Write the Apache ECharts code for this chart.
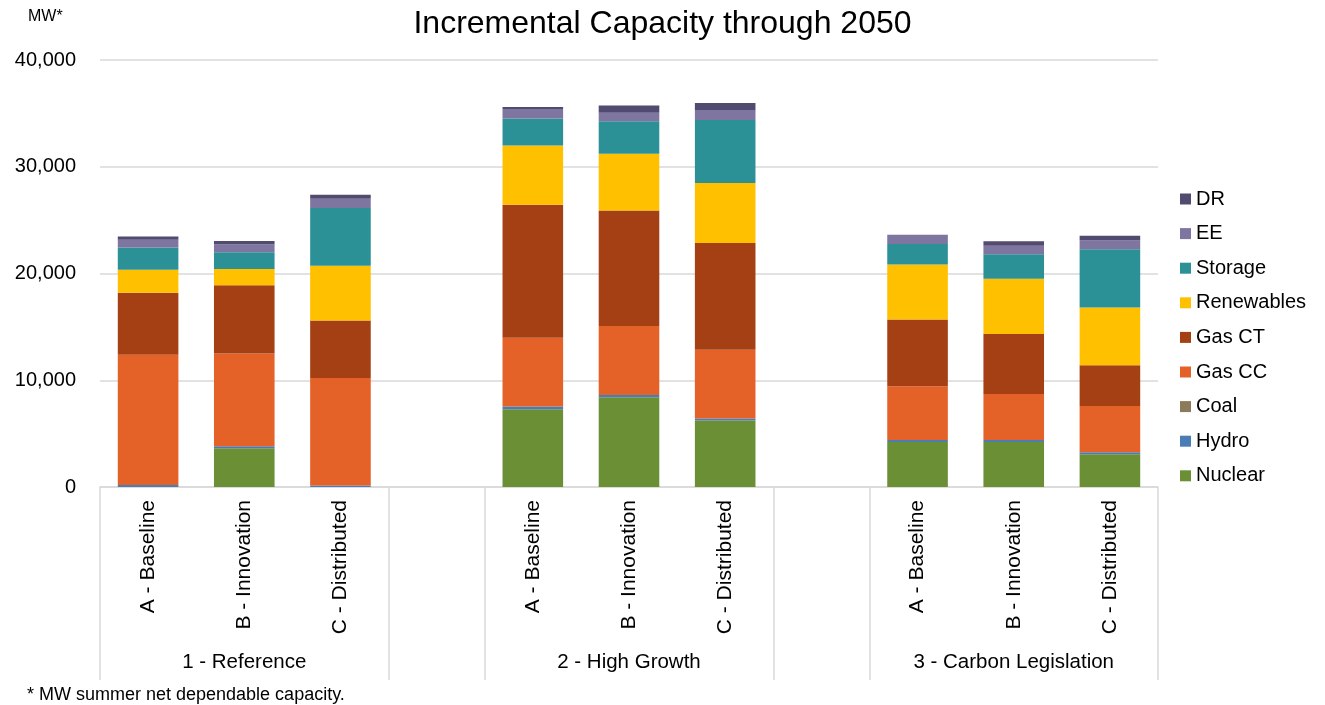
<!DOCTYPE html>
<html>
<head>
<meta charset="utf-8">
<script src="https://cdn.jsdelivr.net/npm/echarts@6/dist/echarts.min.js"></script>
<style>
  html, body { margin: 0; padding: 0; background: #fff; }
  #chart { width: 1325px; height: 705px; }
</style>
</head>
<body>
<div id="chart"></div>
<script>
// Scenario columns; empty entries leave a spacer slot between scenario groups
const categories = [
  'A - Baseline', 'B - Innovation', 'C - Distributed', '',
  'A - Baseline', 'B - Innovation', 'C - Distributed', '',
  'A - Baseline', 'B - Innovation', 'C - Distributed'
];
const groups = ['1 - Reference', '2 - High Growth', '3 - Carbon Legislation'];
const groupMiddleIndex = [1, 5, 9];
const groupBoundaries = [0, 3, 4, 7, 8];

// Incremental capacity by resource type (MW)
const nuclear    = [0,     3620,  0,     null, 7280,  8400,  6220,  null, 4220, 4220, 3060];
const hydro      = [180,   190,   150,   null, 250,   220,   190,   null, 190,  190,  190];
const coal       = [0,     0,     0,     null, 0,     0,     0,     null, 0,    0,    0];
const gasCC      = [12200, 8690,  10070, null, 6440,  6470,  6440,  null, 5030, 4310, 4340];
const gasCT      = [5810,  6400,  5380,  null, 12470, 10810, 10000, null, 6250, 5620, 3810];
const renewables = [2160,  1530,  5120,  null, 5560,  5310,  5620,  null, 5160, 5160, 5410];
const storage    = [2090,  1560,  5410,  null, 2530,  3060,  5910,  null, 1910, 2310, 5470];
const ee         = [720,   720,   880,   null, 880,   780,   940,   null, 870,  780,  810];
const dr         = [310,   340,   370,   null, 190,   690,   660,   null, 0,    440,  440];

const yTicks = { min: 0, max: 40000, interval: 10000 };

const seriesDefs = [
  { name: 'Nuclear',    data: nuclear,    color: '#6b8f35' },
  { name: 'Hydro',      data: hydro,      color: '#4a7db5' },
  { name: 'Coal',       data: coal,       color: '#8c7b5b' },
  { name: 'Gas CC',     data: gasCC,      color: '#e46128' },
  { name: 'Gas CT',     data: gasCT,      color: '#a54014' },
  { name: 'Renewables', data: renewables, color: '#ffc000' },
  { name: 'Storage',    data: storage,    color: '#2c9197' },
  { name: 'EE',         data: ee,         color: '#7e75a0' },
  { name: 'DR',         data: dr,         color: '#514b70' }
];

const FONT = '"Liberation Sans", Arial, sans-serif';
const GRID_COLOR = '#d9d9d9';

const groupAxisData = categories.map(function (c, i) {
  const g = groupMiddleIndex.indexOf(i);
  return g >= 0 ? groups[g] : '';
});

const chart = echarts.init(document.getElementById('chart'), null, { renderer: 'canvas' });

chart.setOption({
  animation: false,
  textStyle: { fontFamily: FONT },
  title: [
    {
      text: 'Incremental Capacity through 2050',
      left: 'center', top: 3,
      textStyle: { fontFamily: FONT, fontSize: 32, fontWeight: 'normal', color: '#000' }
    },
    {
      text: 'MW*',
      left: 23, top: 4,
      textStyle: { fontFamily: FONT, fontSize: 16, fontWeight: 'normal', color: '#000' }
    },
    {
      text: '* MW summer net dependable capacity.',
      left: 22, top: 681,
      textStyle: { fontFamily: FONT, fontSize: 18, fontWeight: 'normal', color: '#000' }
    }
  ],
  legend: {
    orient: 'vertical',
    left: 1175, top: 184,
    itemWidth: 11, itemHeight: 11,
    itemGap: 14.6,
    icon: 'rect',
    data: seriesDefs.map(function (s) { return s.name; }).reverse(),
    textStyle: { fontFamily: FONT, fontSize: 20, color: '#000' }
  },
  grid: { left: 100, right: 167, top: 60, bottom: 218, containLabel: false },
  xAxis: [
    {
      type: 'category',
      data: categories,
      axisLine: { lineStyle: { color: GRID_COLOR, width: 1.5 } },
      axisTick: {
        show: true,
        length: 193,
        interval: function (index) { return groupBoundaries.indexOf(index) >= 0; },
        lineStyle: { color: GRID_COLOR, width: 1.5 }
      },
      axisLabel: {
        interval: 0, rotate: 90, margin: 13,
        fontFamily: FONT, fontSize: 21, color: '#000'
      }
    },
    {
      type: 'category',
      data: groupAxisData,
      position: 'bottom',
      axisLine: { show: false },
      axisTick: { show: false },
      axisLabel: {
        interval: 0, margin: 165,
        fontFamily: FONT, fontSize: 20.5, color: '#000'
      }
    }
  ],
  yAxis: {
    type: 'value',
    min: yTicks.min, max: yTicks.max, interval: yTicks.interval,
    axisLine: { show: false },
    axisTick: { show: false },
    splitLine: { lineStyle: { color: GRID_COLOR, width: 1.5 } },
    axisLabel: {
      margin: 24,
      fontFamily: FONT, fontSize: 20, color: '#000',
      formatter: function (v) { return v.toLocaleString('en-US'); }
    }
  },
  series: seriesDefs.map(function (s) {
    return {
      name: s.name,
      type: 'bar',
      stack: 'total',
      xAxisIndex: 0,
      barCategoryGap: '37%',
      data: s.data,
      itemStyle: { color: s.color },
      emphasis: { disabled: true }
    };
  })
});
</script>
</body>
</html>
